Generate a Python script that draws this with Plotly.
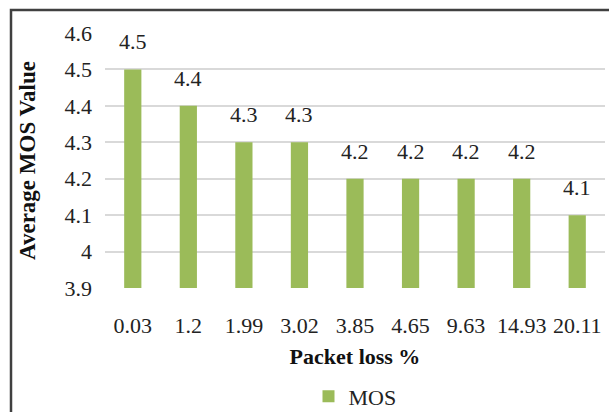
import plotly.graph_objects as go

categories = ["0.03", "1.2", "1.99", "3.02", "3.85", "4.65", "9.63", "14.93", "20.11"]
mos_values = [4.5, 4.4, 4.3, 4.3, 4.2, 4.2, 4.2, 4.2, 4.1]
y_ticks = [3.9, 4.0, 4.1, 4.2, 4.3, 4.4, 4.5, 4.6]
y_tick_labels = ["3.9", "4", "4.1", "4.2", "4.3", "4.4", "4.5", "4.6"]

FONT = "Liberation Serif"
GREEN = "#9BBB59"

fig = go.Figure()
fig.add_trace(go.Bar(
    x=categories, y=mos_values, name="MOS",
    marker=dict(color=GREEN, line=dict(width=0)),
    width=0.31,
))

for i, v in enumerate(mos_values):
    fig.add_annotation(x=i, y=v, text=f"{v}", showarrow=False,
                       yanchor="bottom", yshift=13,
                       font=dict(family=FONT, size=22, color="#222222"))

fig.update_layout(
    width=609, height=412,
    margin=dict(l=105, r=4, t=33, b=124, autoexpand=False),
    paper_bgcolor="white", plot_bgcolor="white",
    showlegend=True,
    legend=dict(orientation="h", x=0.5, xanchor="center", y=-0.425, yanchor="middle",
                font=dict(family=FONT, size=22, color="#222222"),
                itemwidth=30, traceorder="normal"),
    xaxis=dict(
        type="category", automargin=False,
        range=[-0.5, len(categories) - 0.5],
        tickfont=dict(family=FONT, size=22, color="#222222"),
        ticklabelstandoff=22,
        showgrid=False, showline=False, zeroline=False,
        title=dict(text="<b>Packet loss %</b>", font=dict(family=FONT, size=22, color="#111111"), standoff=11),
    ),
    yaxis=dict(
        range=[3.9, 4.6], automargin=False,
        tickvals=y_ticks, ticktext=y_tick_labels,
        tickfont=dict(family=FONT, size=22, color="#222222"),
        ticklabelstandoff=12,
        showgrid=True, gridcolor="#d9d9d9", gridwidth=1.5,
        zeroline=False, showline=False,
        title=dict(text="<b>Average MOS Value</b>", font=dict(family=FONT, size=23, color="#111111"), standoff=22),
    ),
)

# outer chart frame (cut off at the right/bottom edge like the reference)
fig.add_shape(type="rect", xref="paper", yref="paper",
              x0=-0.188, x1=1.06, y0=-0.56, y1=1.09,
              line=dict(color="#404040", width=2.5), layer="above")

fig.write_html("out.html")
